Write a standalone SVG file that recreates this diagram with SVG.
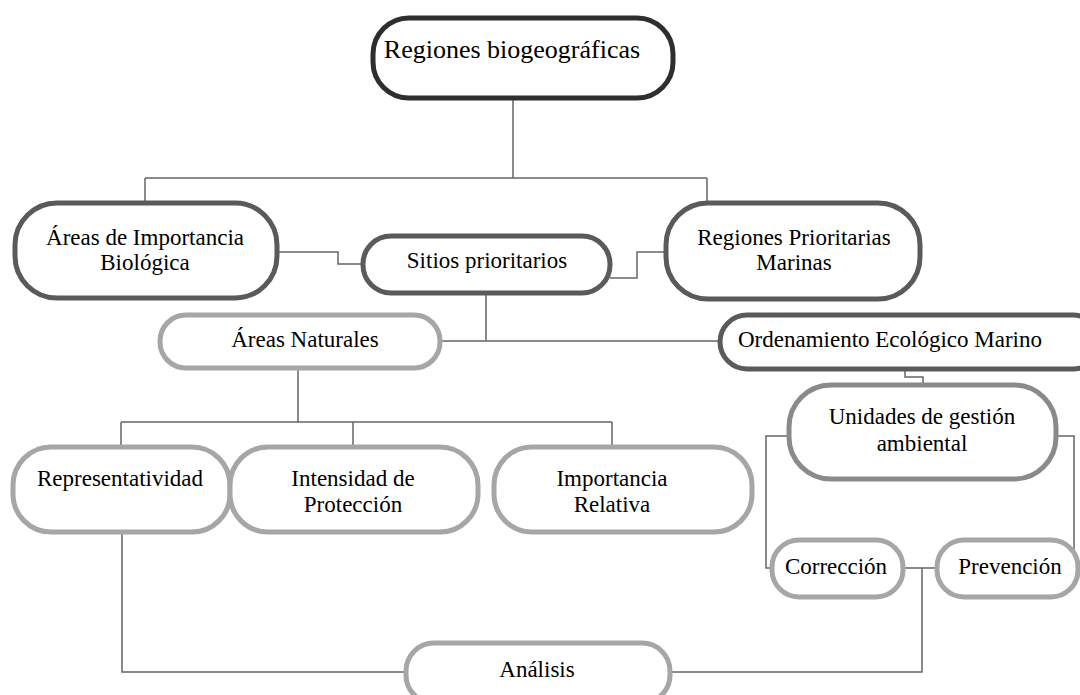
<svg xmlns="http://www.w3.org/2000/svg" width="1080" height="695" viewBox="0 0 1080 695">
<style>
.n{fill:#fff;stroke-width:5}
.k{stroke:#2e2e2e}
.d{stroke:#5a5a5a}
.m{stroke:#8a8a8a}
.l{stroke:#a6a6a6}
.t{font-family:"Liberation Serif","Times New Roman",serif;font-size:23px;fill:#000;text-anchor:middle}
.c{fill:none;stroke:#666;stroke-width:1.5}
</style>
<rect width="1080" height="695" fill="#fff"/>
<g id="connectors" class="c">
<path d="M513 98V178M145 178H707M145 178V203M707 178V203"/>
<path d="M277 252H338V264H363"/>
<path d="M610 278H637V252H666"/>
<path d="M486 293V341M440 341H720"/>
<path d="M905 370V377H923V385"/>
<path d="M298 368V422M121 422H612M121 422V447M353 422V447M612 422V447"/>
<path d="M789 436H766V568H772"/>
<path d="M1056 436H1074V556"/>
<path d="M903 568H937M922 568V672H670"/>
<path d="M122 532V672H406"/>
</g>
<g id="n-regiones"><rect class="n k" x="373" y="18" width="300" height="80" rx="36"/><text class="t" x="512" y="58" style="font-size:26px">Regiones biogeográficas</text></g>
<g id="n-areas-imp"><rect class="n d" x="15" y="203" width="262" height="95" rx="42"/><text class="t" x="145" y="245">Áreas de Importancia</text><text class="t" x="145" y="270">Biológica</text></g>
<g id="n-sitios"><rect class="n d" x="363" y="236" width="247" height="57" rx="28"/><text class="t" x="487" y="268">Sitios prioritarios</text></g>
<g id="n-rpm"><rect class="n d" x="666" y="203" width="254" height="96" rx="42"/><text class="t" x="794" y="245">Regiones Prioritarias</text><text class="t" x="794" y="270">Marinas</text></g>
<g id="n-areas-nat"><rect class="n l" x="160" y="315" width="280" height="53" rx="26"/><text class="t" x="305" y="347">Áreas Naturales</text></g>
<g id="n-ordenamiento"><rect class="n d" x="720" y="315" width="380" height="54" rx="27"/><text class="t" x="890" y="347">Ordenamiento Ecológico Marino</text></g>
<g id="n-unidades"><rect class="n m" x="789" y="385" width="267" height="94" rx="42"/><text class="t" x="922" y="424">Unidades de gestión</text><text class="t" x="922" y="451">ambiental</text></g>
<g id="n-repr"><rect class="n l" x="13" y="447" width="217" height="85" rx="38"/><text class="t" x="120" y="486">Representatividad</text></g>
<g id="n-intens"><rect class="n l" x="230" y="447" width="248" height="85" rx="38"/><text class="t" x="353" y="486">Intensidad de</text><text class="t" x="353" y="512">Protección</text></g>
<g id="n-import"><rect class="n l" x="494" y="447" width="258" height="85" rx="38"/><text class="t" x="612" y="486">Importancia</text><text class="t" x="612" y="512">Relativa</text></g>
<g id="n-correccion"><rect class="n l" x="772" y="540" width="131" height="57" rx="27"/><text class="t" x="836" y="574">Corrección</text></g>
<g id="n-prevencion"><rect class="n l" x="937" y="540" width="141" height="57" rx="27"/><text class="t" x="1010" y="574">Prevención</text></g>
<g id="n-analisis"><rect class="n l" x="406" y="643" width="264" height="60" rx="28"/><text class="t" x="537" y="677">Análisis</text></g>
</svg>
